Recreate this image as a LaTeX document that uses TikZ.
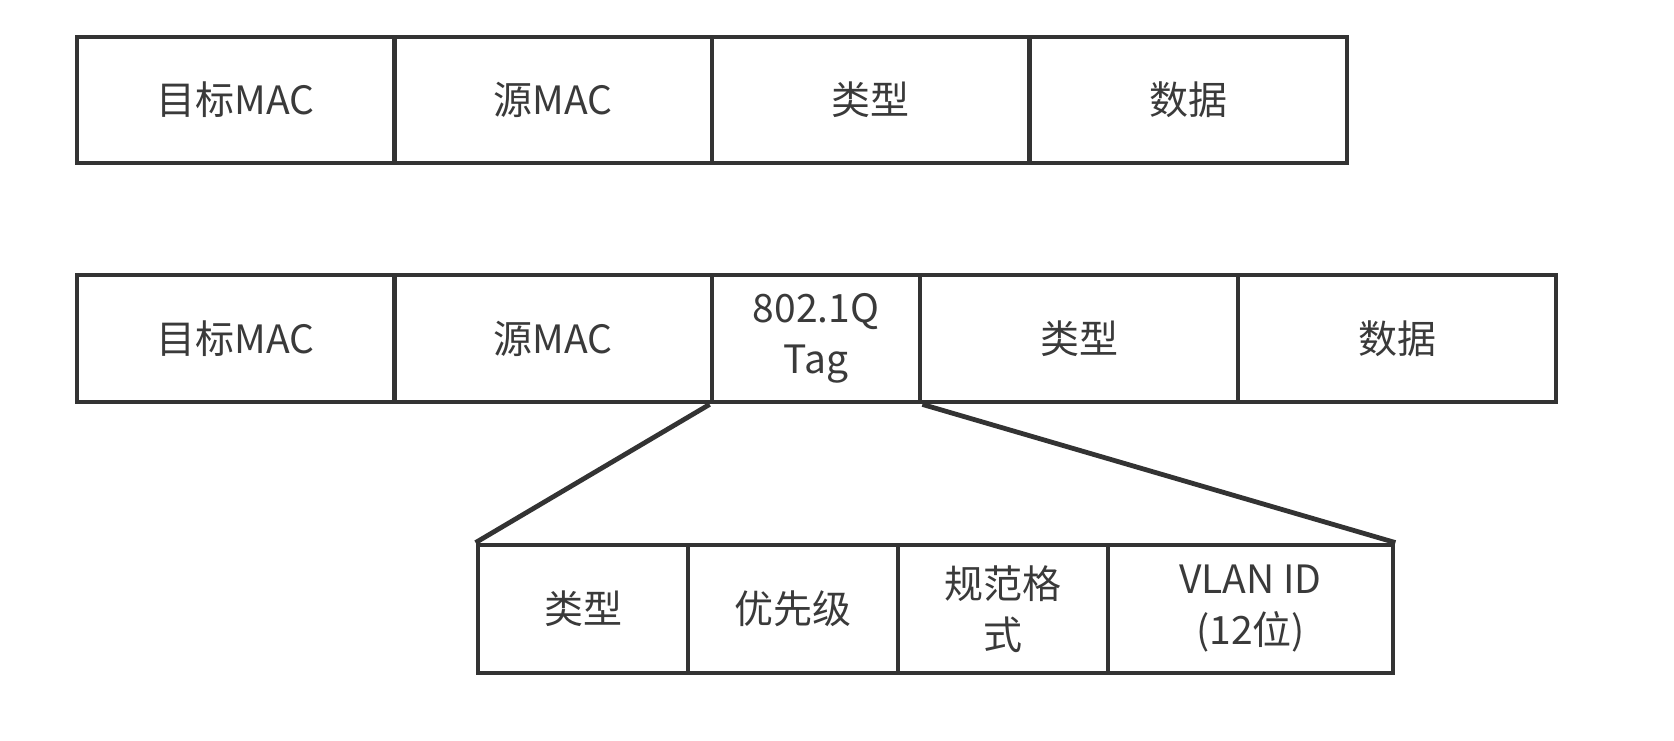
\documentclass[tikz,border=0pt]{standalone}
\usepackage{fontspec}
\setmainfont{Noto Sans CJK SC}
\definecolor{linegray}{HTML}{333333}
\definecolor{textgray}{HTML}{3A3A3A}
\tikzset{
  cell/.style 2 args={draw=linegray, line width=2.4pt, fill=white, inner sep=0pt,
    minimum width=#1*0.5pt, minimum height=#2*0.5pt,
    text=textgray, align=center, font=\fontsize{19.5}{25.5}\selectfont},
  link/.style={draw=linegray, line width=2.4pt}
}
\begin{document}
\begin{tikzpicture}[x=0.5pt, y=-0.5pt]
\useasboundingbox (0,0) rectangle (1674,740);
% top frame
\node[cell={317.5}{126}] (a1) at (235.75,100) {目标MAC};
\node[cell={317.5}{126}] (a2) at (553.25,100) {源MAC};
\node[cell={317.5}{126}] (a3) at (870.75,100) {类型};
\node[cell={317.5}{126}] (a4) at (1188.25,100) {数据};
% 802.1Q frame
\node[cell={317.5}{127}] (b1) at (235.75,338.5) {目标MAC};
\node[cell={317.5}{127}] (b2) at (553.25,338.5) {源MAC};
\node[cell={208}{127}] (tag) at (816,338.5) {802.1Q\\Tag};
\node[cell={318}{127}] (b4) at (1079,338.5) {类型};
\node[cell={318}{127}] (b5) at (1397,338.5) {数据};
% tag detail
\node[cell={210}{128}] (s1) at (583,609) {类型};
\node[cell={210}{128}] (s2) at (793,609) {优先级};
\node[cell={210}{128}] (s3) at (1003,609) {规范格\\式};
\node[cell={285}{128}] (s4) at (1250.5,609) {VLAN ID\\(12位)};
% connectors
\draw[link] (tag.south west) -- (s1.north west);
\draw[link] (tag.south east) -- (s4.north east);
\end{tikzpicture}
\end{document}
